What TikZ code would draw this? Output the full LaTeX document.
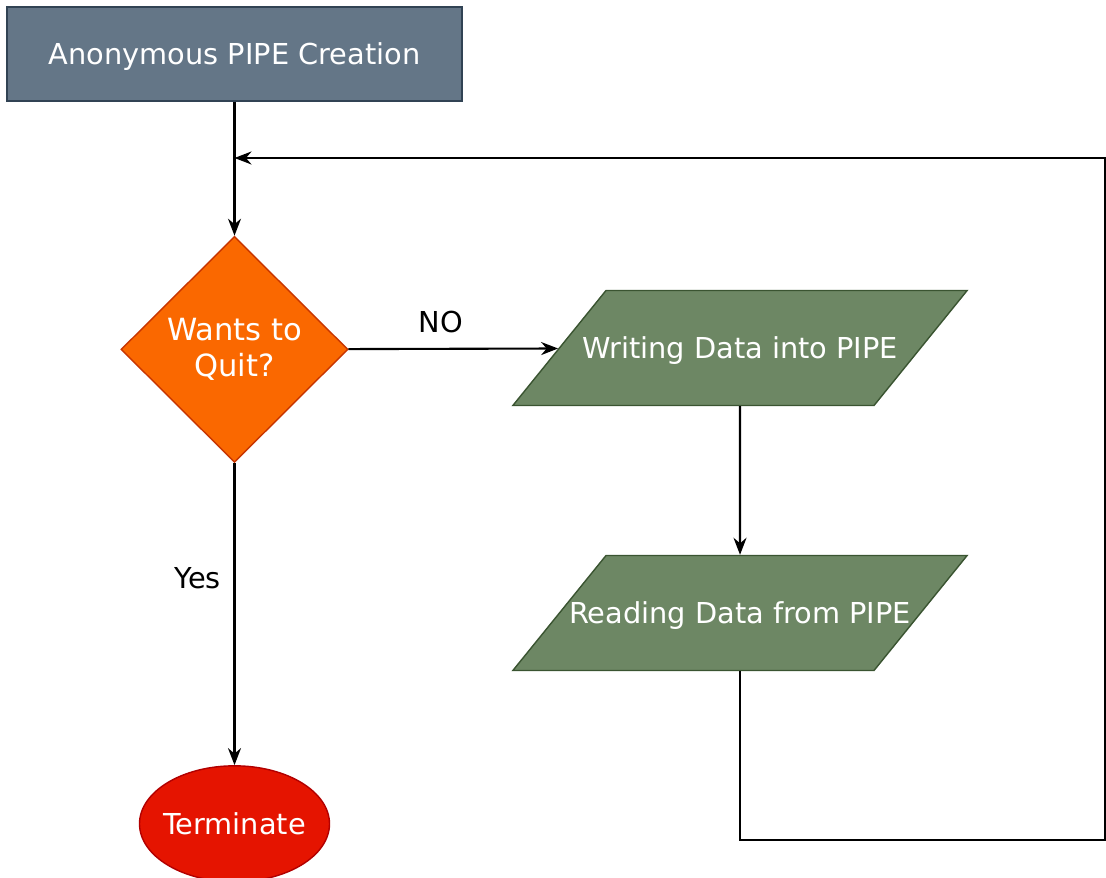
\documentclass[tikz,border=0pt]{standalone}
\usepackage{fontspec}
\setmainfont{DejaVu Sans}
\usepackage{xcolor}
\usepackage{tikz}
\usetikzlibrary{arrows.meta, positioning, shapes.geometric}

\definecolor{slatefill}{HTML}{647687}
\definecolor{slateline}{HTML}{314354}
\definecolor{orangefill}{HTML}{FA6800}
\definecolor{orangeline}{HTML}{C73500}
\definecolor{greenfill}{HTML}{6D8764}
\definecolor{greenline}{HTML}{3A5431}
\definecolor{redfill}{HTML}{E51400}
\definecolor{redline}{HTML}{B20000}

% fixed-width label boxes, so the shapes keep their size
\newcommand{\iolabel}[1]{\makebox[2.68cm]{#1}}
\newcommand{\stoplabel}[1]{\makebox[1.2cm]{#1}}

\begin{document}
\begin{tikzpicture}[
    font=\fontsize{8.2}{9.8}\selectfont,
    startbox/.style={draw=slateline, fill=slatefill, text=white, minimum width=4.55cm,
                minimum height=0.94cm, inner sep=0pt, text height=2.4mm, text depth=0.3mm},
    decision/.style={draw=orangeline, fill=orangefill, text=white, diamond, aspect=1,
                minimum width=2.27cm, minimum height=2.26cm, inner sep=0pt, align=center,
                font=\fontsize{8.7}{10.2}\selectfont},
    iobox/.style={draw=greenline, fill=greenfill, text=white, trapezium,
                trapezium left angle=51, trapezium right angle=129,
                text height=2.4mm, text depth=0.3mm, inner xsep=0pt, inner ysep=4.4mm},
    stopnode/.style={draw=redline, fill=redfill, text=white, ellipse,
                minimum width=1.9cm, minimum height=1.16cm, inner sep=0pt},
    arrow/.style={-{Stealth[length=1.7mm, width=1.3mm]}, line width=0.6pt}
]
    \useasboundingbox (0,0) rectangle (11.06,-8.78);

    \node[startbox] (create) at (2.345,-0.54) {Anonymous PIPE Creation};
    \node[decision, below=1.34cm of create] (quit) {Wants to\\Quit?};
    \node[iobox] (write) at (7.4,-3.48) {\iolabel{Writing Data into PIPE}};
    \node[iobox] (read) at (7.4,-6.13) {\iolabel{Reading Data from PIPE}};
    \node[stopnode, below=3.02cm of quit] (term) {\stoplabel{Terminate}};
    \coordinate (join) at (2.345,-1.58);
    \coordinate (corner) at (11.05,-8.40);

    \draw[arrow] (create) -- (quit);
    \draw[arrow] (quit) -- node[pos=0.44, above=1pt] {NO} (write);
    \draw[arrow] (quit) -- node[pos=0.38, left=0.01cm] {Yes} (term);
    \draw[arrow] (write) -- (read);
    \draw[arrow] (read.south) |- (corner) |- (join);
\end{tikzpicture}
\end{document}
